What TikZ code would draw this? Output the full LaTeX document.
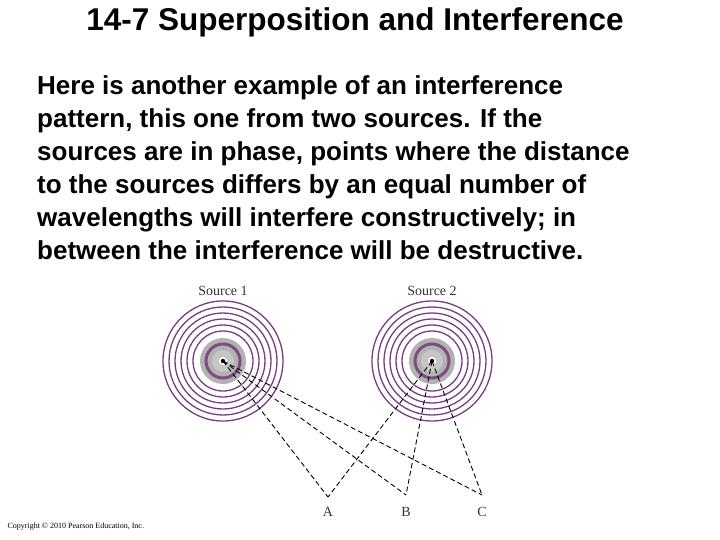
\documentclass[tikz,border=0pt]{standalone}
\usepackage{fontspec}
\setmainfont{Liberation Sans}
\newfontfamily\serifx{Liberation Serif}
\begin{document}
\begin{tikzpicture}[x=1pt,y=-1pt,
  ring/.style={draw={rgb,255:red,120;green,60;blue,130}, line width=1.3pt},
  dline/.style={line width=0.9pt, dash pattern=on 5pt off 3pt},
  lab/.style={font=\serifx\fontsize{14}{16}\selectfont, text=black!80}]
\useasboundingbox (0,0) rectangle (720,540);
\node[font=\fontsize{31.5}{34}\selectfont\bfseries] (title) at (355,22) {14-7 Superposition and Interference};
\node[anchor=north west, align=left, inner sep=0pt, font=\fontsize{26}{33}\selectfont\bfseries] (body) at (37,75) {Here is another example of an interference\\pattern, this one from two sources. If the\\sources are in phase, points where the distance\\to the sources differs by an equal number of\\wavelengths will interfere constructively; in\\between the interference will be destructive.};
\foreach \n/\cx in {s1/223, s2/432}{
  \foreach \r in {30,36,42,48,54,60} \draw[ring] (\cx,361) circle (\r);
  \fill[gray!60] (\cx,361) circle (23);
  \draw[violet!40!gray, line width=3pt] (\cx,361) circle (17);
  \fill[gray!45] (\cx,361) circle (11);
  \fill[white] (\cx,361) circle (4);
  \fill[black] (\cx,361) circle (2.2);
  \coordinate (\n) at (\cx,361);
}
\node[lab] (l1) at (223,291) {Source 1};
\node[lab] (l2) at (432,291) {Source 2};
\coordinate (A) at (328,497);
\coordinate (B) at (406,495);
\coordinate (C) at (482,495);
\node[lab, anchor=base] (la) at (328,516) {A};
\node[lab, anchor=base] (lb) at (406,516) {B};
\node[lab, anchor=base] (lc) at (482,516) {C};
\foreach \p in {A,B,C}{ \draw[dline] (s1) -- (\p); \draw[dline] (s2) -- (\p); }
\node[anchor=west, font=\serifx\fontsize{8}{9}\selectfont] (copy) at (4,527) {Copyright © 2010 Pearson Education, Inc.};
\end{tikzpicture}
\end{document}
